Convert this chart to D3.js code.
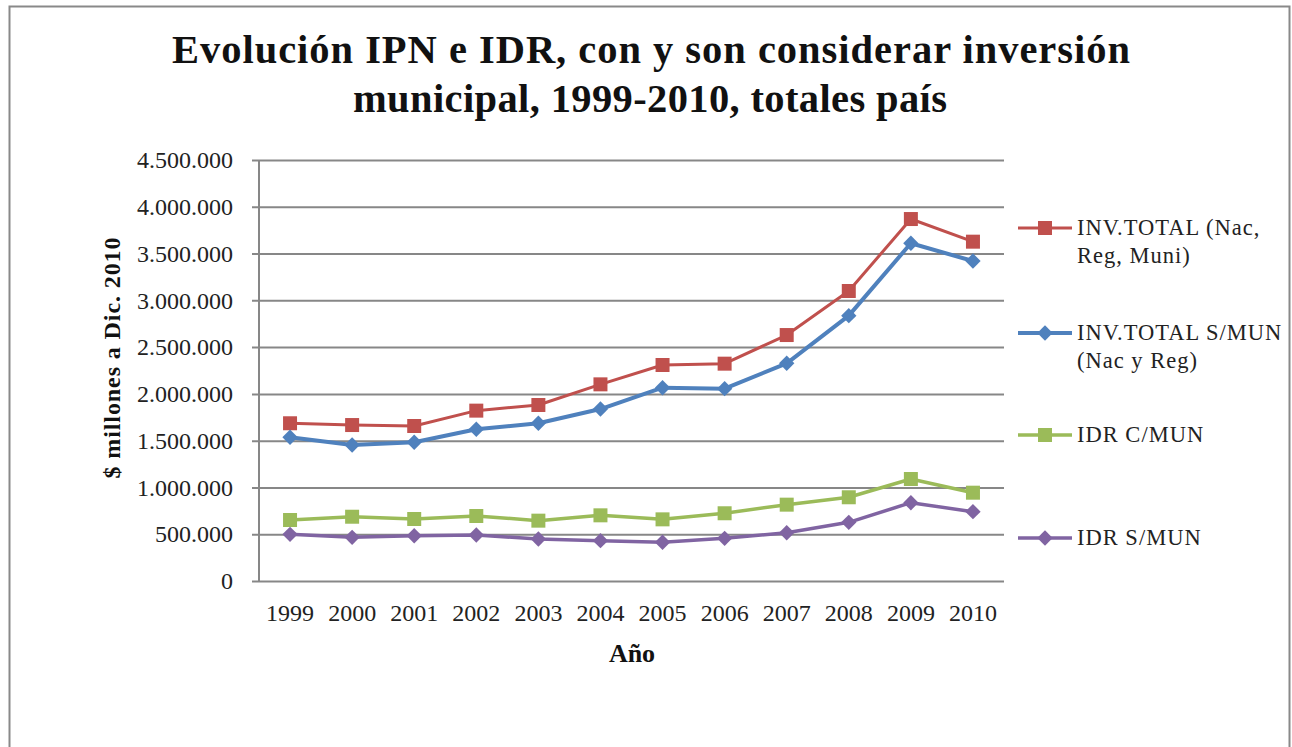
<!DOCTYPE html>
<html>
<head>
<meta charset="utf-8">
<script src="https://cdn.jsdelivr.net/npm/d3@7"></script>
<style>
html,body{margin:0;padding:0;background:#fff;}
svg{display:block;}
text{font-family:"Liberation Serif","DejaVu Serif",serif;}
</style>
</head>
<body>
<svg id="chart" width="1292" height="747"></svg>
<script>
const years = ["1999","2000","2001","2002","2003","2004","2005","2006","2007","2008","2009","2010"];
const invTotal = [1686000,1667000,1657000,1821000,1881000,2102000,2309000,2323000,2629000,3100000,3869000,3627000];
const invSinMun = [1536000,1454000,1483000,1622000,1686000,1838000,2066000,2056000,2327000,2836000,3610000,3420000];
const idrConMun = [652000,687000,663000,695000,645000,702000,659000,724000,816000,895000,1090000,944000];
const idrSinMun = [499000,467000,484000,492000,449000,431000,414000,456000,516000,627000,837000,741000];
const yTicks = [0,500000,1000000,1500000,2000000,2500000,3000000,3500000,4000000,4500000];
const seriesNames = [["INV.TOTAL (Nac,","Reg, Muni)"],["INV.TOTAL S/MUN","(Nac y Reg)"],["IDR C/MUN"],["IDR S/MUN"]];
const titleLines = ["Evolución IPN e IDR, con y son considerar inversión","municipal, 1999-2010, totales país"];
const xTitle = "Año";
const yTitle = "$ millones a Dic. 2010";

const series = [
  {name: seriesNames[0], values: invTotal, color: "#C0504D", width: 3, marker: "square"},
  {name: seriesNames[1], values: invSinMun, color: "#4F81BD", width: 4, marker: "diamond"},
  {name: seriesNames[2], values: idrConMun, color: "#9BBB59", width: 3.5, marker: "square"},
  {name: seriesNames[3], values: idrSinMun, color: "#8064A2", width: 3.5, marker: "diamond"}
];

const svg = d3.select("#chart");
const L = 259, R = 1004, T = 160, B = 581;

// outer border
svg.append("rect").attr("x", 9.5).attr("y", 6.5).attr("width", 1280).attr("height", 760)
  .attr("fill", "#fff").attr("stroke", "#898989").attr("stroke-width", 2);

const x = d3.scaleBand().domain(years).range([L, R]);
const y = d3.scaleLinear().domain([0, 4500000]).range([B, T]);

const fmt = v => d3.format(",")(v).replace(/,/g, ".");

// y axis with gridlines
const yAxis = svg.append("g").attr("transform", `translate(${L},0)`)
  .call(d3.axisLeft(y).tickValues(yTicks).tickSize(-(R - L)).tickFormat(fmt).tickPadding(26));
yAxis.select(".domain").remove();
yAxis.selectAll(".tick line").attr("stroke", "#878787").attr("stroke-width", 2).attr("x1", -7);
yAxis.selectAll(".tick text").attr("font-size", 24).attr("fill", "#222")
  .style("font-family", "'Liberation Serif',serif");

// axis lines
svg.append("line").attr("x1", L).attr("x2", L).attr("y1", T).attr("y2", B)
  .attr("stroke", "#878787").attr("stroke-width", 2);

// x axis
const xAxis = svg.append("g").attr("transform", `translate(0,${B})`)
  .call(d3.axisBottom(x).tickSize(0).tickPadding(23));
xAxis.select(".domain").remove();
xAxis.selectAll(".tick text").attr("font-size", 24).attr("fill", "#222")
  .style("font-family", "'Liberation Serif',serif");

// title
const titleLens = [958, 594];
const titleX = [651, 650];
svg.append("text").attr("text-anchor", "middle")
  .attr("font-weight", "bold").attr("font-size", 40.5).attr("fill", "#111")
  .selectAll("tspan").data(titleLines).join("tspan")
  .attr("x", (d, i) => titleX[i]).attr("y", (d, i) => 63 + i * 49)
  .attr("textLength", (d, i) => titleLens[i]).attr("lengthAdjust", "spacing")
  .text(d => d);

// axis titles
svg.append("text").attr("x", 632).attr("y", 662).attr("text-anchor", "middle")
  .attr("font-weight", "bold").attr("font-size", 26).attr("fill", "#111").text(xTitle);
svg.append("text").attr("transform", "translate(120,358) rotate(-90)").attr("text-anchor", "middle")
  .attr("font-weight", "bold").attr("font-size", 24).attr("fill", "#111")
  .attr("textLength", 241).attr("lengthAdjust", "spacing").text(yTitle);

const cx = d => x(d) + x.bandwidth() / 2;
const line = d3.line().x((d, i) => cx(years[i])).y(d => y(d));

function drawMarker(g, type, color, px, py) {
  if (type === "square") {
    g.append("path").attr("d", d3.symbol(d3.symbolSquare, 196)())
      .attr("transform", `translate(${px},${py})`).attr("fill", color);
  } else {
    g.append("path").attr("d", d3.symbol(d3.symbolSquare, 118)())
      .attr("transform", `translate(${px},${py}) rotate(45)`).attr("fill", color);
  }
}

series.forEach(s => {
  const g = svg.append("g");
  g.append("path").datum(s.values).attr("d", line).attr("fill", "none")
    .attr("stroke", s.color).attr("stroke-width", s.width).attr("stroke-linejoin", "round");
  s.values.forEach((v, i) => drawMarker(g, s.marker, s.color, cx(years[i]), y(v)));
});

// legend
const legY = [228, 333, 435, 538];
series.forEach((s, i) => {
  const g = svg.append("g");
  g.append("line").attr("x1", 1018).attr("x2", 1072).attr("y1", legY[i]).attr("y2", legY[i])
    .attr("stroke", s.color).attr("stroke-width", s.width);
  drawMarker(g, s.marker, s.color, 1045, legY[i]);
  g.append("text").attr("font-size", 22.5).attr("fill", "#222").attr("letter-spacing", 1)
    .selectAll("tspan").data(s.name).join("tspan")
    .attr("x", 1077).attr("y", (d, j) => legY[i] + 7 + j * 28).text(d => d);
});
</script>
</body>
</html>
